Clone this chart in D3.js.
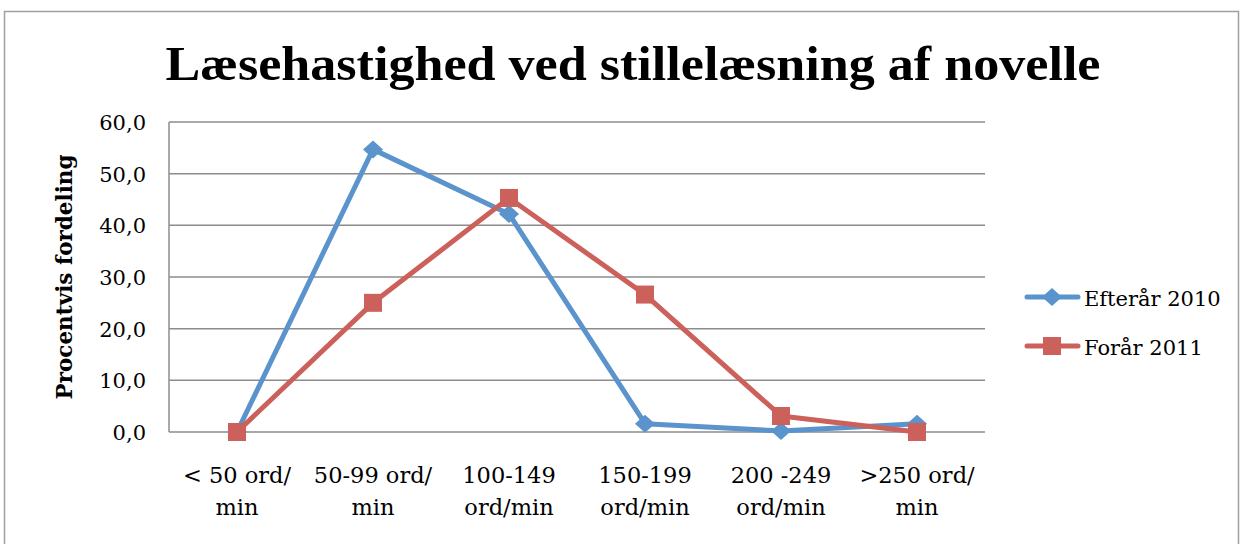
<!DOCTYPE html>
<html lang="da">
<head>
<meta charset="UTF-8">
<title>Læsehastighed ved stillelæsning af novelle</title>
<script src="https://d3js.org/d3.v7.min.js"></script>
<style>
  body { margin: 0; background: #fff; }
  svg { display: block; font-family: "DejaVu Serif", "Liberation Serif", serif; }
  .grid line { stroke: #8c8c8c; stroke-width: 1.5px; }
  .axis text { fill: #000; }
</style>
</head>
<body>
<div id="chart"></div>
<script>
const categories = [["< 50 ord/", "min"], ["50-99 ord/", "min"], ["100-149", "ord/min"],
                    ["150-199", "ord/min"], ["200 -249", "ord/min"], [">250 ord/", "min"]];
const efteraar2010 = [0, 54.7, 42.2, 1.6, 0.2, 1.6];
const foraar2011 = [0, 25.0, 45.3, 26.6, 3.1, 0];
const yTicks = [0, 10, 20, 30, 40, 50, 60];

const width = 1243, height = 544;
const plot = { left: 169, right: 985, top: 122, bottom: 432 };

const svg = d3.select("#chart").append("svg")
  .attr("width", width)
  .attr("height", height);

// frame
svg.append("rect")
  .attr("x", 4.5).attr("y", 11.5)
  .attr("width", 1234).attr("height", 540)
  .attr("fill", "none").attr("stroke", "#a0a0a0").attr("stroke-width", 1.5);

svg.append("text")
  .attr("x", 633).attr("y", 80)
  .attr("text-anchor", "middle")
  .attr("font-family", "'Liberation Serif', serif")
  .attr("font-weight", "bold")
  .attr("font-size", 49)
  .attr("textLength", 935)
  .attr("lengthAdjust", "spacingAndGlyphs")
  .text("Læsehastighed ved stillelæsning af novelle");

const x = d3.scaleBand()
  .domain(d3.range(categories.length))
  .range([plot.left, plot.right]);

const y = d3.scaleLinear()
  .domain([0, 60])
  .range([plot.bottom, plot.top]);

// gridlines
svg.append("g").attr("class", "grid")
  .selectAll("line").data(yTicks).enter().append("line")
  .attr("x1", plot.left).attr("x2", plot.right)
  .attr("y1", d => y(d)).attr("y2", d => y(d));

svg.append("g").attr("class", "grid")
  .append("line")
  .attr("x1", plot.left).attr("x2", plot.left)
  .attr("y1", plot.top).attr("y2", plot.bottom);

// y tick labels
svg.append("g").attr("class", "axis")
  .selectAll("text").data(yTicks).enter().append("text")
  .attr("x", plot.left - 23)
  .attr("y", d => y(d) + 8)
  .attr("text-anchor", "end")
  .attr("font-size", 21)
  .text(d => d.toFixed(1).replace(".", ","));

// y axis title
svg.append("text")
  .attr("transform", `translate(72,${(plot.top + plot.bottom) / 2}) rotate(-90)`)
  .attr("text-anchor", "middle")
  .attr("font-weight", "bold")
  .attr("font-size", 21.5)
  .text("Procentvis fordeling");

// x labels
const xl = svg.append("g").attr("class", "axis")
  .selectAll("text").data(categories).enter().append("text")
  .attr("text-anchor", "middle")
  .attr("font-size", 22.5);
xl.append("tspan")
  .attr("x", (d, i) => x(i) + x.bandwidth() / 2)
  .attr("y", 483)
  .text(d => d[0]);
xl.append("tspan")
  .attr("x", (d, i) => x(i) + x.bandwidth() / 2)
  .attr("y", 515)
  .text(d => d[1]);

const series = [
  { name: "Efterår 2010", values: efteraar2010, color: "#5b93cc", marker: "diamond" },
  { name: "Forår 2011", values: foraar2011, color: "#cc615c", marker: "square" }
];

const line = d3.line()
  .x((d, i) => x(i) + x.bandwidth() / 2)
  .y(d => y(d));

function marker(g, type, color) {
  if (type === "diamond") {
    g.append("path").attr("d", "M0,-9L10,0L0,9L-10,0Z").attr("fill", color);
  } else {
    g.append("rect").attr("x", -9).attr("y", -9).attr("width", 18).attr("height", 18).attr("fill", color);
  }
}

series.forEach(s => {
  svg.append("path")
    .datum(s.values)
    .attr("fill", "none")
    .attr("stroke", s.color)
    .attr("stroke-width", 5)
    .attr("stroke-linejoin", "round")
    .attr("d", line);
});

series.forEach(s => {
  s.values.forEach((v, i) => {
    const g = svg.append("g")
      .attr("transform", `translate(${x(i) + x.bandwidth() / 2},${y(v)})`);
    marker(g, s.marker, s.color);
  });
});

// legend
const legend = svg.append("g");
series.forEach((s, i) => {
  const ly = 297 + i * 49;
  legend.append("line")
    .attr("x1", 1027).attr("x2", 1078)
    .attr("y1", ly).attr("y2", ly)
    .attr("stroke", s.color).attr("stroke-width", 5)
    .attr("stroke-linecap", "round");
  const g = legend.append("g").attr("transform", `translate(1052,${ly})`);
  marker(g, s.marker, s.color);
  legend.append("text")
    .attr("x", 1084).attr("y", ly + 9)
    .attr("font-size", 21)
    .text(s.name);
});
</script>
</body>
</html>
